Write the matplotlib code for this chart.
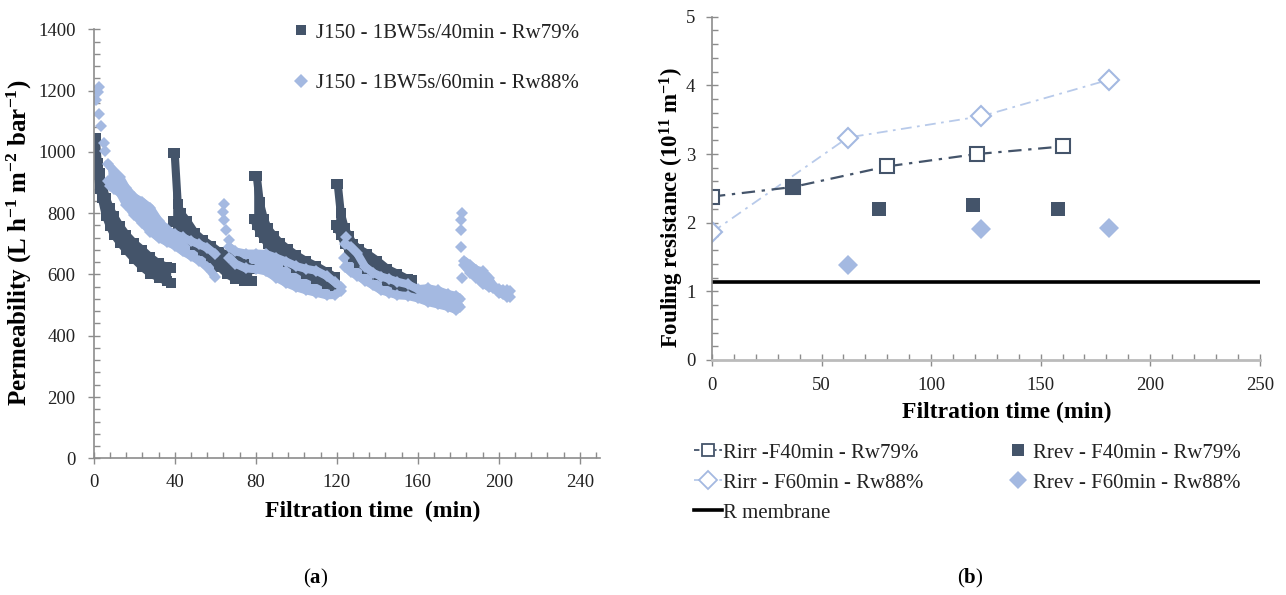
import matplotlib
matplotlib.use('Agg')
import matplotlib.pyplot as plt
from matplotlib.ticker import MultipleLocator
from matplotlib.lines import Line2D

plt.rcParams['font.family'] = ['Liberation Serif', 'DejaVu Serif']
plt.rcParams['mathtext.fontset'] = 'custom'
plt.rcParams['mathtext.rm'] = 'Liberation Serif'
plt.rcParams['mathtext.bf'] = 'Liberation Serif:bold'
plt.rcParams['mathtext.it'] = 'Liberation Serif:italic'

DARK = '#44546A'
LIGHT = '#A4B9E1'
LIGHT_LINE = '#B8CAEA'
AXIS = '#8C8C8C'

# ---------------- (a) permeability ----------------
# dark series (40 min cycles): time, upper and lower edge of the point cloud
d1_t = [0, 1, 2, 3, 4, 6, 8, 10, 13, 16, 20, 24, 28, 32, 36, 38]
d1_hi = [1045, 1045, 965, 930, 900, 850, 816, 790, 757, 730, 702, 680, 656, 636, 625, 620]
d1_lo = [975, 955, 925, 880, 850, 792, 757, 730, 703, 680, 650, 624, 603, 590, 578, 572]

d2_t = [39, 40, 41.5, 43, 46, 50, 54, 58, 62, 66, 70, 74, 78]
d2_hi = [995, 995, 830, 800, 775, 735, 712, 694, 674, 664, 652, 635, 618]
d2_lo = [775, 770, 760, 742, 722, 695, 675, 655, 625, 600, 585, 580, 578]

d3_t = [79, 80.5, 82, 84, 86, 89, 92, 96, 100, 105, 110, 115, 119]
d3_hi = [922, 922, 835, 782, 750, 725, 703, 682, 663, 643, 627, 608, 592]
d3_lo = [780, 760, 738, 718, 698, 678, 660, 640, 620, 600, 585, 568, 558]

d4_t = [119.5, 120.5, 122, 124, 126, 128, 131, 135, 140, 145, 150, 155, 157]
d4_hi = [895, 895, 800, 750, 725, 700, 683, 668, 645, 618, 602, 585, 582]
d4_lo = [760, 750, 728, 700, 678, 658, 638, 618, 598, 578, 563, 550, 545]

# light series (60 min cycles)
l1_t = [7, 10, 13, 16, 20, 24, 28, 32, 36, 40, 44, 48, 52, 56, 60]
l1_hi = [961, 937, 917, 882, 852, 837, 817, 776, 747, 732, 721, 709, 698, 687, 667]
l1_lo = [905, 880, 865, 828, 795, 768, 740, 720, 706, 694, 675, 660, 645, 625, 592]

l2_t = [67, 70, 75, 80, 85, 90, 95, 100, 105, 110, 115, 119, 122]
l2_hi = [690, 675, 668, 668, 667, 655, 642, 627, 618, 612, 595, 575, 560]
l2_lo = [655, 635, 620, 617, 610, 590, 572, 558, 548, 540, 532, 533, 545]

l3_t = [124, 127, 130, 134, 138, 142, 146, 150, 155, 160, 165, 170, 175, 179, 181]
l3_hi = [700, 690, 670, 625, 605, 593, 585, 576, 568, 552, 555, 548, 536, 530, 520]
l3_lo = [625, 608, 596, 580, 564, 548, 540, 532, 530, 522, 510, 502, 494, 484, 495]

l4_t = [183, 186, 189, 192, 195, 197]
l4_hi = [645, 630, 615, 610, 590, 565]
l4_lo = [630, 605, 590, 570, 560, 555]

l5_t = [200, 202, 204, 205.5]
l5_hi = [552, 550, 548, 545]
l5_lo = [540, 535, 528, 528]

# loose light points
lp_t = [1.1, 2.3, 2.8, 2.8, 3.6, 5.1, 5.6, 8.0, 64.2, 63.7, 64.5, 65.3, 66.9,
        123.8, 124.6, 182.1, 181.6, 181.5, 181.4, 182.1]
lp_v = [1170, 1194, 1213, 1123, 1085, 1028, 1003, 887, 830, 805, 778, 745, 712,
        653, 723, 800, 778, 745, 691, 588]

dark_cycles = [(d1_t, d1_hi, d1_lo), (d2_t, d2_hi, d2_lo), (d3_t, d3_hi, d3_lo), (d4_t, d4_hi, d4_lo)]
light_cycles = [(l1_t, l1_hi, l1_lo), (l2_t, l2_hi, l2_lo), (l3_t, l3_hi, l3_lo),
                (l4_t, l4_hi, l4_lo), (l5_t, l5_hi, l5_lo)]

lab_dark = 'J150 - 1BW5s/40min - Rw79%'
lab_light = 'J150 - 1BW5s/60min - Rw88%'

# ---------------- (b) fouling resistance ----------------
rirr40_t = [0, 37, 80, 121, 160]
rirr40_v = [2.38, 2.52, 2.82, 3.00, 3.11]
rirr60_t = [0, 62, 123, 181]
rirr60_v = [1.86, 3.24, 3.55, 4.08]
rrev40_t = [37, 76, 119, 158]
rrev40_v = [2.52, 2.20, 2.26, 2.20]
rrev60_t = [62, 123, 181]
rrev60_v = [1.39, 1.91, 1.92]
rmem_t = [0, 250]
rmem_v = [1.13, 1.13]


def band(ax, t, hi, lo, color, marker, ms):
    # dense cloud of points: filled core, thick edges and the edge points
    ax.fill_between(t, lo, hi, color=color, lw=0)
    for edge in (hi, lo):
        ax.plot(t, edge, color=color, lw=ms * 0.9, solid_joinstyle='round',
                solid_capstyle='round')
        ax.plot(t, edge, ls='none', marker=marker, ms=ms, color=color, mew=0)


def style_axis(ax):
    for s in ['top', 'right']:
        ax.spines[s].set_visible(False)
    for s in ['left', 'bottom']:
        ax.spines[s].set_color(AXIS)
        ax.spines[s].set_linewidth(1.2)
    ax.tick_params(which='major', direction='inout', length=8, width=1, color=AXIS,
                   labelsize=13.5, labelcolor='#222222')
    ax.tick_params(which='minor', direction='in', length=4, width=1, color=AXIS)


W, H = 1286, 595
fig = plt.figure(figsize=(W / 100, H / 100), dpi=100)

# ----- panel a -----
ax1 = fig.add_axes([93.7 / W, 1 - 458.3 / H, (600 - 93.7) / W, (458.3 - 29.3) / H])
for t, hi, lo in dark_cycles:
    band(ax1, t, hi, lo, DARK, 's', 6.5)
for t, hi, lo in light_cycles:
    band(ax1, t, hi, lo, LIGHT, 'D', 6.5)
ax1.plot(lp_t, lp_v, ls='none', marker='D', ms=6.5, color=LIGHT, mew=0)

ax1.set_xlim(0, 250)
ax1.set_ylim(0, 1400)
ax1.xaxis.set_minor_locator(MultipleLocator(8))
ax1.yaxis.set_major_locator(MultipleLocator(200))
ax1.yaxis.set_minor_locator(MultipleLocator(40))
ax1.set_xticks(range(0, 241, 40))
style_axis(ax1)
ax1.tick_params(axis='x', pad=7)
ax1.tick_params(axis='y', pad=9)
ax1.set_xlabel('Filtration time  (min)', fontsize=17, fontweight='bold', va='center')
ax1.xaxis.set_label_coords((373 - 93.7) / 506.3, -(511 - 458.3) / 429)
ax1.set_ylabel(r'$\mathbf{Permeability\ (L\ h^{-1}\ m^{-2}\ bar^{-1})}$', fontsize=18, va='center')
ax1.yaxis.set_label_coords((19 - 93.7) / 506.3, (458.3 - 243) / 429)

hd = Line2D([], [], ls='none', marker='s', ms=7.5, color=DARK, mew=0)
hl = Line2D([], [], ls='none', marker='D', ms=7, color=LIGHT, mew=0)
ax1.legend([hd, hl], [lab_dark, lab_light], loc='upper left',
           bbox_to_anchor=(295 / W, 1 - 23 / H), bbox_transform=fig.transFigure,
           frameon=False, fontsize=15, handlelength=0.6, handletextpad=0.4,
           borderpad=0, borderaxespad=0, labelspacing=1.5, labelcolor='#222222')

# ----- panel b -----
ax2 = fig.add_axes([712 / W, 1 - 360 / H, (1259.7 - 712) / W, (360 - 16.7) / H])
ax2.plot(rmem_t, rmem_v, color='black', lw=2.6, solid_capstyle='butt')
ax2.plot(rirr60_t, rirr60_v, ls='-.', dashes=(6, 3, 1.5, 3), color=LIGHT_LINE, lw=1.3,
         marker='D', ms=10, mfc='white', mec=LIGHT, mew=1.5)
ax2.plot(rirr40_t, rirr40_v, ls='-.', dashes=(6, 3, 1.5, 3), color=DARK, lw=1.6,
         marker='s', ms=10, mfc='white', mec=DARK, mew=1.5)
ax2.plot(rrev40_t, rrev40_v, ls='none', marker='s', ms=10, color=DARK, mew=0)
ax2.plot(rrev60_t, rrev60_v, ls='none', marker='D', ms=10, color=LIGHT, mew=0)

ax2.set_xlim(0, 250)
ax2.set_ylim(0, 5)
ax2.xaxis.set_major_locator(MultipleLocator(50))
ax2.xaxis.set_minor_locator(MultipleLocator(10))
ax2.yaxis.set_major_locator(MultipleLocator(1))
ax2.yaxis.set_minor_locator(MultipleLocator(0.2))
style_axis(ax2)
ax2.spines['bottom'].set_color('#BBBBBB')
ax2.spines['bottom'].set_linewidth(2)
ax2.tick_params(axis='x', pad=8)
ax2.tick_params(axis='y', pad=8)
ax2.set_xlabel('Filtration time (min)', fontsize=17, fontweight='bold', va='center')
ax2.xaxis.set_label_coords((1007 - 712) / 547.7, -(412 - 360) / 343.3)
ax2.set_ylabel(r'$\mathbf{Fouling\ resistance\ (10^{11}\ m^{-1})}$', fontsize=16.5, va='center')
ax2.yaxis.set_label_coords((672 - 712) / 547.7, (360 - 208) / 343.3)

h1 = Line2D([], [], ls='-.', dashes=(3, 1.5, 1, 1.5), color=DARK, lw=1.3, marker='s', ms=9,
            mfc='white', mec=DARK, mew=1.3)
h2 = Line2D([], [], ls='-.', dashes=(3, 1.5, 1, 1.5), color=LIGHT_LINE, lw=1.3, marker='D', ms=9,
            mfc='white', mec=LIGHT, mew=1.3)
h3 = Line2D([], [], color='black', lw=2.6)
h4 = Line2D([], [], ls='none', marker='s', ms=9, color=DARK, mew=0)
h5 = Line2D([], [], ls='none', marker='D', ms=9, color=LIGHT, mew=0)
kw = dict(loc='upper left', bbox_transform=fig.transFigure, frameon=False, fontsize=15,
          handlelength=1.35, handletextpad=0.05, borderpad=0, borderaxespad=0,
          labelspacing=0.5, labelcolor='#222222')
leg1 = ax2.legend([h1, h2, h3], ['Rirr -F40min - Rw79%', 'Rirr - F60min - Rw88%', 'R membrane'],
                  bbox_to_anchor=(694 / W, 1 - 443 / H), **kw)
ax2.add_artist(leg1)
ax2.legend([h4, h5], ['Rrev - F40min - Rw79%', 'Rrev - F60min - Rw88%'],
           bbox_to_anchor=(1004 / W, 1 - 443 / H), **kw)

fig.text(316 / W, 1 - 578 / H, r'($\mathbf{a}$)', ha='center', va='center', fontsize=15)
fig.text(970 / W, 1 - 578 / H, r'($\mathbf{b}$)', ha='center', va='center', fontsize=15)

fig.savefig('out.png', dpi=100)
